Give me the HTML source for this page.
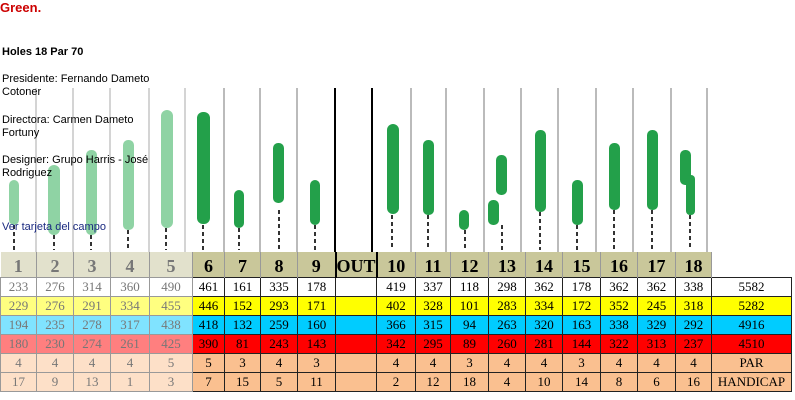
<!DOCTYPE html>
<html><head><style>
body{margin:0;width:795px;height:400px;background:#fff;position:relative;overflow:hidden;font-family:"Liberation Sans",sans-serif}
.t{position:absolute;font-size:11px;color:#000;line-height:13px}
table{position:absolute;left:0;top:252px;border-collapse:collapse;font-family:"Liberation Serif",serif;font-size:13px}
td{padding:0;text-align:center;height:18px;border:1px solid #222}
tr.h td{height:25px;font-weight:bold;font-size:18px;background:#c9c79a;border:none;border-right:1px solid #999;vertical-align:bottom}
.y td{background:#ff0}.c td{background:#00ccff}.r td{background:#f00}.p td{background:#fac090}
td.f{color:#777;border-color:#999}
.h td.f{background:#e2e1cc;color:#777}
.y td.f{background:#ffff80}.c td.f{background:#80e3ff}.r td.f{background:#ff7f7f}.p td.f{background:#fde0c8}
</style></head><body>
<svg width="795" height="252" style="position:absolute;left:0;top:0">
<g stroke="#aaa" stroke-width="1">
<line x1="36" y1="88" x2="36" y2="252"/><line x1="73" y1="88" x2="73" y2="252"/><line x1="110" y1="88" x2="110" y2="252"/><line x1="149" y1="88" x2="149" y2="252"/><line x1="185" y1="88" x2="185" y2="252"/>
<g stroke="#777"><line x1="224" y1="88" x2="224" y2="252"/><line x1="260" y1="88" x2="260" y2="252"/><line x1="297" y1="88" x2="297" y2="252"/>
<line x1="411" y1="88" x2="411" y2="252"/><line x1="446" y1="88" x2="446" y2="252"/><line x1="484" y1="88" x2="484" y2="252"/><line x1="521" y1="88" x2="521" y2="252"/><line x1="558" y1="88" x2="558" y2="252"/><line x1="596" y1="88" x2="596" y2="252"/><line x1="633" y1="88" x2="633" y2="252"/><line x1="671" y1="88" x2="671" y2="252"/><line x1="707" y1="88" x2="707" y2="252"/></g>
<line x1="335" y1="88" x2="335" y2="252" stroke="#000" stroke-width="2"/><line x1="372" y1="88" x2="372" y2="252" stroke="#000" stroke-width="2"/>
</g>
<g stroke="#333" stroke-width="2" stroke-dasharray="4,3">
<line x1="14" y1="225" x2="14" y2="250"/><line x1="54" y1="235" x2="54" y2="250"/><line x1="91" y1="235" x2="91" y2="250"/><line x1="128" y1="230" x2="128" y2="250"/><line x1="166" y1="228" x2="166" y2="250"/>
<line x1="203" y1="225" x2="203" y2="250"/><line x1="239" y1="228" x2="239" y2="250"/><line x1="279" y1="210" x2="279" y2="250"/><line x1="315" y1="225" x2="315" y2="250"/><line x1="392" y1="215" x2="392" y2="250"/><line x1="428" y1="215" x2="428" y2="250"/><line x1="465" y1="230" x2="465" y2="250"/><line x1="502" y1="225" x2="502" y2="250"/><line x1="540" y1="212" x2="540" y2="250"/><line x1="577" y1="225" x2="577" y2="250"/><line x1="614" y1="210" x2="614" y2="250"/><line x1="652" y1="210" x2="652" y2="250"/><line x1="690" y1="215" x2="690" y2="250"/>
</g>
<g fill="#8fd3a4">
<rect x="9" y="180" width="10" height="45" rx="5"/><rect x="48" y="165" width="12" height="70" rx="6"/><rect x="86" y="150" width="11" height="85" rx="5"/><rect x="123" y="140" width="11" height="90" rx="5"/><rect x="161" y="110" width="12" height="118" rx="6"/>
</g>
<g fill="#23a04a">
<rect x="197" y="112" width="13" height="112" rx="6"/><rect x="234" y="190" width="10" height="38" rx="5"/><rect x="273" y="143" width="11" height="60" rx="5"/><rect x="310" y="180" width="10" height="45" rx="5"/>
<rect x="387" y="124" width="12" height="90" rx="6"/><rect x="423" y="140" width="11" height="75" rx="5"/><rect x="459" y="210" width="10" height="20" rx="5"/><rect x="496" y="155" width="11" height="40" rx="5"/><rect x="488" y="200" width="11" height="25" rx="5"/><rect x="535" y="130" width="11" height="82" rx="5"/><rect x="572" y="180" width="11" height="45" rx="5"/><rect x="609" y="143" width="11" height="67" rx="5"/><rect x="647" y="130" width="11" height="80" rx="5"/><rect x="680" y="150" width="11" height="35" rx="5"/><rect x="686" y="175" width="9" height="40" rx="4"/>
</g>
</svg>
<div class="t" style="top:1px;left:0;color:#c00;font-weight:bold;font-size:13px">Green.</div>
<div class="t" style="top:46px;left:2px;font-weight:bold">Holes 18 Par 70</div>
<div class="t" style="top:73px;left:2px">Presidente: Fernando Dameto<br>Cotoner</div>
<div class="t" style="top:114px;left:2px">Directora: Carmen Dameto<br>Fortuny</div>
<div class="t" style="top:154px;left:2px">Designer: Grupo Harris - José<br>Rodriguez</div>
<div class="t" style="top:221px;left:2px;color:#1a2a80">Ver tarjeta del campo</div>
<table>
<colgroup><col style="width:36px"><col style="width:37px"><col style="width:37px"><col style="width:39px"><col style="width:43px"><col style="width:32px"><col style="width:36px"><col style="width:37px"><col style="width:38px"><col style="width:37px"><col style="width:39px"><col style="width:35px"><col style="width:38px"><col style="width:37px"><col style="width:37px"><col style="width:38px"><col style="width:37px"><col style="width:38px"><col style="width:36px"><col style="width:80px"></colgroup>
<tr class="h"><td class="f">1</td><td class="f">2</td><td class="f">3</td><td class="f">4</td><td class="f">5</td><td>6</td><td>7</td><td>8</td><td>9</td><td style="border-left:2px solid #000;border-right:2px solid #000">OUT</td><td>10</td><td>11</td><td>12</td><td>13</td><td>14</td><td>15</td><td>16</td><td>17</td><td>18</td><td style="background:#fff;border:none"></td></tr>
<tr><td class="f">233</td><td class="f">276</td><td class="f">314</td><td class="f">360</td><td class="f">490</td><td>461</td><td>161</td><td>335</td><td>178</td><td></td><td>419</td><td>337</td><td>118</td><td>298</td><td>362</td><td>178</td><td>362</td><td>362</td><td>338</td><td>5582</td></tr>
<tr class="y"><td class="f">229</td><td class="f">276</td><td class="f">291</td><td class="f">334</td><td class="f">455</td><td>446</td><td>152</td><td>293</td><td>171</td><td></td><td>402</td><td>328</td><td>101</td><td>283</td><td>334</td><td>172</td><td>352</td><td>245</td><td>318</td><td>5282</td></tr>
<tr class="c"><td class="f">194</td><td class="f">235</td><td class="f">278</td><td class="f">317</td><td class="f">438</td><td>418</td><td>132</td><td>259</td><td>160</td><td></td><td>366</td><td>315</td><td>94</td><td>263</td><td>320</td><td>163</td><td>338</td><td>329</td><td>292</td><td>4916</td></tr>
<tr class="r"><td class="f">180</td><td class="f">230</td><td class="f">274</td><td class="f">261</td><td class="f">425</td><td>390</td><td>81</td><td>243</td><td>143</td><td></td><td>342</td><td>295</td><td>89</td><td>260</td><td>281</td><td>144</td><td>322</td><td>313</td><td>237</td><td>4510</td></tr>
<tr class="p"><td class="f">4</td><td class="f">4</td><td class="f">4</td><td class="f">4</td><td class="f">5</td><td>5</td><td>3</td><td>4</td><td>3</td><td></td><td>4</td><td>4</td><td>3</td><td>4</td><td>4</td><td>3</td><td>4</td><td>4</td><td>4</td><td>PAR</td></tr>
<tr class="p"><td class="f">17</td><td class="f">9</td><td class="f">13</td><td class="f">1</td><td class="f">3</td><td>7</td><td>15</td><td>5</td><td>11</td><td></td><td>2</td><td>12</td><td>18</td><td>4</td><td>10</td><td>14</td><td>8</td><td>6</td><td>16</td><td>HANDICAP</td></tr>
</table>
</body></html>
